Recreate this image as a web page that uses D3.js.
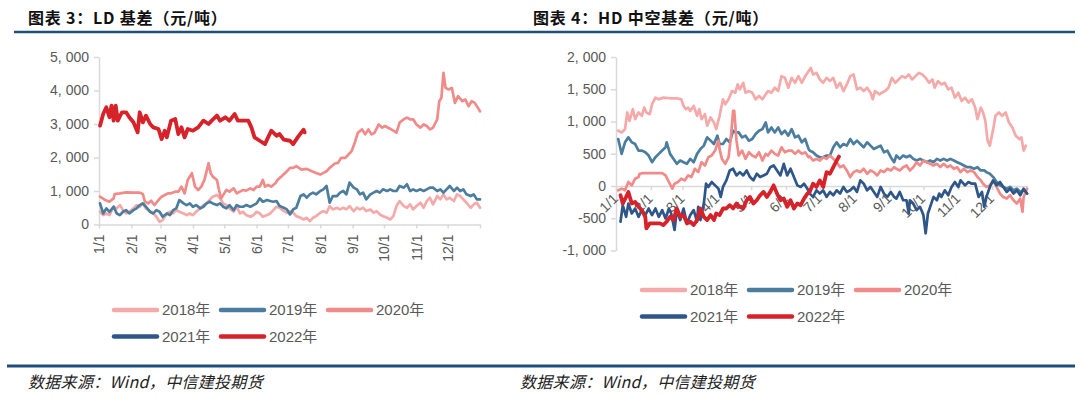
<!DOCTYPE html>
<html>
<head>
<meta charset="utf-8">
<script src="https://cdn.jsdelivr.net/npm/d3@7"></script>
<style>
    body { margin: 0; background: #fff; }
    svg { display: block; font-family: "Liberation Sans", Arial, "Noto Sans CJK SC", sans-serif; }
</style>
</head>
<body>
<svg id="chart" width="1080" height="399"></svg>
<script>
// ---- data: [day of year, 元/吨] ----
const years = ['2018年', '2019年', '2020年', '2021年', '2022年'];
const colors = ['#f5aaa9', '#4b7d9e', '#f18b89', '#2f5689', '#d7222a'];
const monthDays = [0, 31, 59, 90, 120, 151, 181, 212, 243, 273, 304, 334];
const monthLabels = ['1/1', '2/1', '3/1', '4/1', '5/1', '6/1', '7/1', '8/1', '9/1', '10/1', '11/1', '12/1'];
const ldTicks = [0, 1000, 2000, 3000, 4000, 5000];
const hdTicks = [-1000, -500, 0, 500, 1000, 1500, 2000];

// LD 基差
const ld2018 = [[1,380],[4,280],[7,330],[10,280],[14,530],[17,480],[20,580],[23,430],[26,330],[29,380],[33,480],[36,580],[39,530],[42,630],[45,480],[49,380],[52,330],[55,230],[58,80],[61,130],[65,330],[68,380],[71,330],[74,430],[77,380],[81,330],[84,280],[87,330],[90,280],[93,380],[97,480],[100,580],[103,630],[106,730],[109,830],[113,880],[116,780],[119,630],[122,580],[125,480],[129,380],[132,530],[135,330],[138,380],[141,280],[145,230],[148,280],[151,380],[154,330],[157,230],[161,280],[164,330],[167,430],[170,530],[173,500],[177,400],[180,350],[183,400],[186,350],[189,250],[193,200],[196,150],[199,200],[202,100],[205,200],[208,250],[212,350],[215,400],[218,350],[221,550],[224,450],[228,500],[231,450],[234,500],[237,450],[240,550],[244,400],[247,500],[250,450],[253,500],[256,400],[260,450],[263,350],[266,400],[269,300],[272,250],[276,200],[279,150],[282,250],[285,550],[288,700],[292,550],[295,500],[298,600],[301,450],[304,550],[308,650],[311,500],[314,700],[317,800],[320,600],[324,850],[327,750],[330,900],[333,750],[336,800],[340,700],[343,900],[346,850],[349,750],[352,650],[356,500],[359,600],[362,650],[365,500]];
const ld2019 = [[1,630],[4,330],[7,480],[10,380],[14,530],[17,330],[20,280],[23,380],[26,430],[29,330],[33,430],[36,480],[39,580],[42,630],[45,530],[49,380],[52,330],[55,430],[58,380],[61,230],[65,330],[68,280],[71,430],[74,480],[77,730],[81,630],[84,580],[87,630],[90,530],[93,580],[97,480],[100,530],[103,630],[106,680],[109,630],[113,580],[116,630],[119,530],[122,480],[125,580],[129,430],[132,580],[135,530],[138,530],[141,580],[145,530],[148,580],[151,630],[154,780],[157,680],[161,730],[164,700],[167,680],[170,700],[173,550],[177,500],[180,450],[183,300],[186,450],[189,500],[193,850],[196,900],[199,800],[202,900],[205,950],[208,900],[212,1000],[215,1050],[218,1150],[221,650],[224,850],[228,850],[231,950],[234,1000],[237,900],[240,1250],[244,1100],[247,1050],[250,900],[253,950],[256,750],[260,900],[263,950],[266,1000],[269,950],[272,1050],[276,1000],[279,1050],[282,1000],[285,1000],[288,1150],[292,1100],[295,1200],[298,1000],[301,1050],[304,1000],[308,1050],[311,1000],[314,1050],[317,1100],[320,1100],[324,1000],[327,1050],[330,950],[333,1050],[336,1150],[340,1000],[343,1100],[346,1000],[349,1050],[352,900],[356,850],[359,900],[362,750],[365,750]];
const ld2020 = [[1,830],[6,730],[10,680],[14,780],[15,910],[20,930],[26,960],[33,950],[39,950],[42,910],[44,680],[47,630],[50,710],[53,580],[57,730],[60,830],[63,880],[66,930],[69,930],[73,980],[76,980],[79,1130],[82,930],[85,1330],[89,1530],[92,1130],[95,1030],[98,1130],[101,1330],[105,1830],[107,1530],[109,1430],[113,1330],[115,1030],[117,780],[120,930],[122,1030],[125,980],[129,1080],[132,930],[135,980],[138,1030],[141,1010],[145,1080],[148,1030],[151,1130],[154,1130],[157,1330],[159,1130],[162,1180],[165,1130],[169,1230],[171,1330],[175,1440],[180,1590],[183,1690],[186,1690],[189,1740],[194,1640],[199,1660],[204,1590],[208,1540],[212,1490],[215,1540],[218,1590],[221,1690],[226,1820],[229,1840],[232,1990],[236,1990],[239,2090],[242,2190],[245,2440],[248,2740],[252,2840],[255,2690],[258,2840],[261,2690],[264,2740],[268,2990],[271,2890],[274,2940],[277,2890],[280,2840],[285,2740],[288,3040],[292,3140],[295,3190],[298,3140],[301,3140],[304,2990],[308,2890],[311,2990],[314,2940],[317,2840],[320,2890],[324,3140],[326,3680],[328,3780],[330,4530],[332,4080],[335,4030],[338,4080],[341,3630],[344,3830],[348,3680],[351,3730],[354,3530],[357,3680],[360,3630],[364,3430],[365,3380]];
const ld2021 = [];
const ld2022 = [[1,2950],[4,3300],[7,3500],[10,3200],[12,3550],[14,3100],[16,3550],[18,3100],[22,3350],[26,3350],[29,3200],[33,3050],[37,2750],[39,3350],[42,3050],[45,3250],[49,3000],[52,2900],[57,2850],[60,2550],[63,2800],[65,2600],[69,3100],[73,3150],[76,2700],[79,2900],[82,2600],[85,2850],[90,2800],[95,2900],[100,3100],[105,3000],[108,3100],[113,3250],[116,3100],[121,3200],[125,3100],[130,3300],[133,3100],[138,3100],[143,3100],[146,2900],[149,2600],[154,2500],[159,2400],[162,2600],[165,2800],[170,2650],[173,2700],[177,2530],[183,2500],[186,2400],[191,2630],[196,2830],[197,2750]];

// HD 中空基差
const hd2018 = [[2,857],[5,830],[8,880],[10,1140],[12,1010],[15,1190],[17,1036],[20,1140],[23,1090],[25,1215],[27,1140],[30,1113],[32,1267],[35,1370],[38,1344],[42,1370],[48,1360],[54,1360],[58,1344],[60,1241],[62,1190],[64,1215],[66,1165],[69,1241],[72,1090],[74,1190],[76,1036],[79,1113],[81,934],[84,1062],[87,985],[89,882],[92,1088],[95,1344],[97,1267],[100,1344],[103,1472],[106,1447],[108,1575],[110,1498],[113,1600],[115,1447],[118,1472],[121,1447],[124,1344],[127,1395],[130,1344],[133,1421],[135,1472],[138,1447],[141,1524],[144,1472],[147,1703],[150,1677],[153,1524],[156,1677],[159,1600],[162,1703],[165,1600],[168,1703],[171,1780],[173,1831],[175,1729],[178,1754],[181,1652],[184,1600],[187,1677],[190,1626],[193,1677],[196,1524],[199,1600],[202,1472],[205,1575],[208,1703],[211,1729],[214,1498],[217,1524],[220,1472],[223,1524],[226,1447],[228,1344],[230,1472],[234,1421],[236,1447],[239,1472],[242,1524],[245,1677],[248,1600],[251,1652],[254,1703],[257,1677],[260,1729],[263,1652],[266,1703],[269,1754],[272,1729],[275,1677],[278,1600],[281,1652],[283,1524],[286,1626],[289,1575],[292,1600],[295,1498],[298,1524],[301,1370],[304,1447],[307,1318],[310,1370],[313,1293],[316,1344],[319,1216],[321,1036],[324,1216],[326,1139],[328,1010],[330,703],[332,626],[335,882],[337,1088],[340,1139],[343,1088],[346,1139],[349,985],[352,908],[355,780],[358,728],[360,754],[362,549],[364,626]];
const hd2019 = [[2,728],[5,498],[8,677],[11,754],[14,677],[17,651],[20,549],[23,549],[26,523],[29,472],[32,369],[35,446],[38,498],[41,549],[44,600],[45,677],[48,498],[51,421],[54,344],[57,395],[60,369],[63,344],[66,421],[69,369],[72,498],[75,575],[78,626],[81,754],[84,703],[87,651],[90,780],[92,651],[95,651],[98,728],[101,677],[104,857],[106,831],[109,831],[112,754],[115,780],[118,703],[121,728],[124,805],[127,857],[130,882],[133,985],[135,831],[138,908],[141,831],[144,908],[147,805],[150,857],[153,780],[156,882],[159,754],[162,780],[165,677],[168,728],[171,575],[172,549],[175,523],[178,472],[181,446],[184,446],[187,472],[190,472],[193,600],[196,677],[199,600],[202,651],[205,626],[208,728],[211,651],[214,703],[217,651],[220,600],[223,677],[226,626],[229,575],[232,600],[235,626],[238,523],[241,549],[244,446],[247,369],[249,472],[252,421],[255,472],[258,446],[261,472],[264,421],[267,395],[270,421],[273,395],[276,369],[279,395],[282,369],[285,421],[288,395],[291,421],[294,395],[297,421],[300,395],[303,369],[306,344],[309,318],[312,292],[315,292],[318,267],[321,292],[324,241],[327,241],[329,215],[332,190],[335,138],[338,62],[341,10],[344,-15],[347,-41],[350,-15],[353,-67],[356,-41],[359,-92],[362,-67],[365,-118]];
const hd2020 = [[2,-67],[5,-41],[8,-67],[11,62],[14,10],[17,113],[20,139],[21,190],[24,200],[30,200],[36,200],[41,200],[44,164],[47,62],[50,-41],[52,36],[55,62],[58,113],[61,87],[64,164],[67,139],[70,267],[73,215],[76,369],[79,318],[82,446],[85,472],[88,549],[91,703],[92,575],[94,421],[97,344],[100,446],[102,754],[104,1165],[105,1165],[107,703],[109,472],[112,549],[115,421],[118,523],[121,472],[124,446],[127,523],[130,395],[133,498],[135,472],[138,549],[141,498],[144,472],[147,600],[150,523],[153,549],[156,549],[159,498],[162,549],[165,498],[168,523],[171,446],[172,460],[175,395],[178,421],[181,395],[184,446],[187,421],[190,472],[193,421],[196,369],[199,292],[202,318],[205,241],[208,139],[211,215],[214,241],[217,215],[220,267],[223,190],[226,241],[229,215],[232,164],[235,241],[238,215],[241,267],[244,241],[247,292],[249,267],[252,241],[255,292],[258,318],[261,241],[264,292],[267,369],[270,318],[273,395],[276,369],[279,344],[282,318],[285,344],[288,292],[291,344],[294,292],[297,318],[300,267],[303,292],[306,215],[309,267],[312,215],[315,241],[318,215],[321,139],[324,87],[326,36],[329,-15],[332,10],[335,87],[338,-15],[341,-118],[344,-170],[347,-195],[350,-144],[353,-221],[356,-272],[359,-195],[361,-400],[362,-170],[365,-41]];
const hd2021 = [[4,-554],[6,-298],[9,-477],[11,-272],[14,-426],[17,-349],[20,-477],[23,-374],[26,-451],[29,-349],[32,-451],[35,-349],[38,-477],[41,-374],[44,-503],[47,-349],[49,-426],[52,-682],[54,-374],[57,-528],[60,-349],[63,-580],[66,-451],[69,-374],[72,-554],[73,-323],[75,-528],[78,-272],[80,36],[82,-15],[85,62],[88,10],[91,-41],[93,-169],[95,-15],[98,87],[101,241],[104,267],[107,164],[110,215],[113,164],[116,241],[119,139],[122,87],[125,190],[128,139],[131,164],[134,190],[137,292],[140,318],[143,241],[146,164],[149,344],[152,164],[155,267],[158,139],[161,10],[164,-15],[167,36],[170,-41],[172,-118],[175,-169],[178,-67],[181,-118],[184,-67],[187,-169],[190,-92],[193,-144],[196,-67],[199,-118],[202,-15],[205,-92],[208,-67],[211,-15],[214,-92],[217,87],[220,36],[223,-67],[226,-15],[229,-92],[232,-169],[235,-15],[238,-118],[241,-169],[244,-92],[247,-169],[249,-195],[252,-92],[255,-221],[258,-221],[260,-426],[261,-221],[264,-272],[267,-374],[270,-323],[273,-451],[275,-733],[277,-426],[279,-323],[282,-169],[285,-221],[287,-118],[289,-169],[292,-67],[295,-144],[298,-15],[301,62],[304,-15],[306,87],[310,10],[313,62],[316,36],[319,36],[322,-169],[325,-92],[327,-323],[329,-169],[332,-15],[335,87],[338,10],[341,62],[344,-15],[347,-92],[350,-41],[353,-118],[356,-67],[359,-144],[362,-41],[365,-118]];
const hd2022 = [[4,-144],[6,-272],[9,-169],[11,-92],[14,-272],[17,-246],[20,-323],[23,-374],[26,-477],[27,-656],[30,-580],[35,-580],[39,-580],[42,-605],[45,-554],[48,-477],[51,-528],[54,-349],[57,-477],[60,-451],[63,-580],[66,-554],[69,-605],[72,-528],[75,-349],[78,-477],[81,-528],[84,-451],[87,-528],[89,-426],[92,-451],[95,-349],[98,-349],[101,-298],[104,-349],[107,-272],[110,-323],[113,-349],[116,-221],[119,-169],[122,-272],[125,-221],[128,-144],[131,-92],[134,-169],[137,-92],[140,10],[143,-118],[146,-221],[149,-195],[152,-323],[155,-221],[158,-349],[161,-272],[164,-298],[167,-195],[170,-118],[172,-92],[175,36],[178,-15],[181,87],[184,-15],[187,215],[190,190],[193,292],[196,395],[198,456]];

const ldSeries = [ld2018, ld2019, ld2020, ld2021, ld2022];
const hdSeries = [hd2018, hd2019, hd2020, hd2021, hd2022];

// ---- drawing ----
const svg = d3.select('#chart');
const ruleColor = '#1f4e79';
const axisColor = '#d9d9d9';
const textColor = '#595959';
const fmt = d3.formatLocale({ decimal: '.', thousands: ', ', grouping: [3], currency: ['', ''], minus: '-' }).format(',');

// title rule + bottom rule
svg.append('line').attr('x1', 14).attr('x2', 1075).attr('y1', 32).attr('y2', 32)
    .attr('stroke', ruleColor).attr('stroke-width', 2.5);
svg.append('line').attr('x1', 7).attr('x2', 1075).attr('y1', 366).attr('y2', 366)
    .attr('stroke', ruleColor).attr('stroke-width', 3);

function drawPanel(p) {
    const x = d3.scaleLinear().domain([0, 365]).range([p.x0, p.x1]);
    const y = d3.scaleLinear().domain(p.yDomain).range([p.yBottom, p.yTop]);

    svg.append('text')
        .attr('x', p.titleX).attr('y', 24)
        .attr('font-family', '"Noto Sans CJK SC", sans-serif')
        .attr('font-weight', 'bold').attr('font-size', 16).attr('letter-spacing', 0.8)
        .attr('fill', '#111')
        .text(p.title);

    const g = svg.append('g');

    // y axis
    const yAxis = g.append('g')
        .attr('transform', `translate(${p.x0},0)`)
        .call(d3.axisLeft(y).tickValues(p.yTicks).tickFormat(fmt).tickSize(5).tickSizeOuter(0).tickPadding(5));

    // x axis on zero line
    const xAxis = g.append('g')
        .attr('transform', `translate(0,${y(0)})`)
        .call(d3.axisBottom(x).tickValues(monthDays.concat([365]))
            .tickFormat((d, i) => monthLabels[i] || '').tickSize(4).tickSizeOuter(0));

    [yAxis, xAxis].forEach(a => {
        a.select('.domain').attr('stroke', axisColor).attr('stroke-width', 1.5);
        a.selectAll('.tick line').attr('stroke', axisColor).attr('stroke-width', 1.5);
        a.selectAll('text').attr('fill', textColor).attr('font-size', 14);
    });

    xAxis.selectAll('text')
        .attr('x', 0).attr('y', 0).attr('dy', '0.35em')
        .attr('text-anchor', 'end')
        .attr('transform', p.labelTransform);

    // series
    const line = d3.line().x(d => x(d[0])).y(d => y(d[1]));
    p.series.forEach((s, i) => {
        if (!s.length) return;
        g.append('path')
            .datum(s)
            .attr('d', line)
            .attr('fill', 'none')
            .attr('stroke', colors[i])
            .attr('stroke-width', i === 4 ? 3.8 : 2.7)
            .attr('stroke-linejoin', 'round')
            .attr('stroke-linecap', 'round');
    });

    // legend
    const lg = svg.append('g');
    years.forEach((yr, i) => {
        const col = i % 3, row = Math.floor(i / 3);
        const lx = p.legendX + col * 107;
        const ly = p.legendY + row * 26.5;
        lg.append('line')
            .attr('x1', lx).attr('x2', lx + 43).attr('y1', ly).attr('y2', ly)
            .attr('stroke', colors[i]).attr('stroke-width', 4.5).attr('stroke-linecap', 'round');
        lg.append('text')
            .attr('x', lx + 48).attr('y', ly).attr('dy', '0.36em')
            .attr('font-size', 15).attr('fill', textColor)
            .text(yr);
    });

    svg.append('text')
        .attr('x', p.footX).attr('y', 388)
        .attr('font-family', '"Noto Sans CJK SC", sans-serif')
        .attr('font-style', 'italic').attr('font-size', 16).attr('letter-spacing', 0.3)
        .attr('fill', '#222')
        .text('数据来源：Wind，中信建投期货');
}

drawPanel({
    title: '图表 3：LD 基差（元/吨）', titleX: 28,
    x0: 99, x1: 480, yTop: 57, yBottom: 224.5,
    yDomain: [0, 5000], yTicks: ldTicks, series: ldSeries,
    labelTransform: 'translate(0,10) rotate(-90)',
    legendX: 114, legendY: 310, footX: 28
});

drawPanel({
    title: '图表 4：HD 中空基差（元/吨）', titleX: 533,
    x0: 616, x1: 1027, yTop: 57, yBottom: 250.5,
    yDomain: [-1000, 2000], yTicks: hdTicks, series: hdSeries,
    labelTransform: 'translate(-1,10) rotate(-45)',
    legendX: 642, legendY: 290, footX: 520
});
</script>
</body>
</html>
